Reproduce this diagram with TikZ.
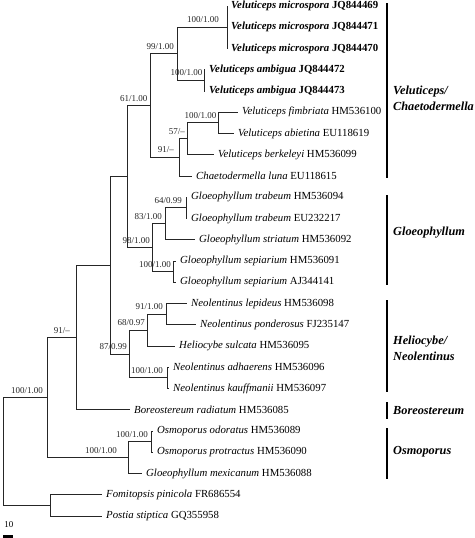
\documentclass[tikz,border=0pt]{standalone}
\usepackage{fontspec}
\setmainfont{Liberation Serif}

\begin{document}
\begin{tikzpicture}[x=1pt,y=-1pt,
    branch/.style={draw=black!85,line width=0.85pt},
    taxon/.style={anchor=west,inner sep=0pt,xshift=4pt,font=\fontsize{10.8}{12}\selectfont},
    support/.style={anchor=base east,inner sep=0pt,yshift=4.5pt,font=\fontsize{9}{10}\selectfont,black!85},
    clade/.style={anchor=west,inner sep=0pt,align=left,font=\fontsize{12.3}{16}\selectfont\bfseries\itshape},
    cladebar/.style={line width=1.5pt}]
\useasboundingbox (0,0) rectangle (474,538);

% === Leaves (id/tip x/row/species/accession) ===
\foreach \id/\tx/\r/\sp/\acc in {
    mic1/227/1/Veluticeps microspora/JQ844469,
    mic2/227/2/Veluticeps microspora/JQ844471,
    mic3/227/3/Veluticeps microspora/JQ844470,
    amb1/205/4/Veluticeps ambigua/JQ844472,
    amb2/205/5/Veluticeps ambigua/JQ844473} {
    \coordinate (\id) at (\tx,{6+21.25*(\r-1)});
    \node[taxon,font=\fontsize{10.8}{12}\selectfont\bfseries] (\id-lbl) at (\id) {\textit{\sp} \acc};
}
\foreach \id/\tx/\r/\sp/\acc in {
    fim/238/6/Veluticeps fimbriata/HM536100,
    abi/234/7/Veluticeps abietina/EU118619,
    ber/214/8/Veluticeps berkeleyi/HM536099,
    cha/192/9/Chaetodermella luna/EU118615,
    gtr1/187/10/Gloeophyllum trabeum/HM536094,
    gtr2/187/11/Gloeophyllum trabeum/EU232217,
    gst/195/12/Gloeophyllum striatum/HM536092,
    gse1/176/13/Gloeophyllum sepiarium/HM536091,
    gse2/176/14/Gloeophyllum sepiarium/AJ344141,
    nle/187/15/Neolentinus lepideus/HM536098,
    npo/196/16/Neolentinus ponderosus/FJ235147,
    hsu/175/17/Heliocybe sulcata/HM536095,
    nad/169/18/Neolentinus adhaerens/HM536096,
    nka/169/19/Neolentinus kauffmanii/HM536097,
    bra/130/20/Boreostereum radiatum/HM536085,
    ood/153/21/Osmoporus odoratus/HM536089,
    opr/153/22/Osmoporus protractus/HM536090,
    gme/142/23/Gloeophyllum mexicanum/HM536088,
    fpi/102/24/Fomitopsis pinicola/FR686554,
    pst/102/25/Postia stiptica/GQ355958} {
    \coordinate (\id) at (\tx,{6+21.25*(\r-1)});
    \node[taxon] (\id-lbl) at (\id) {\textit{\sp} \acc};
}

% === Internal nodes ===
\coordinate (nMic) at (227,27.25);
\coordinate (nAmb) at (204,80.38);
\coordinate (n99)  at (177,53.81);
\coordinate (nFim) at (218,122.88);
\coordinate (n57)  at (187,138.81);
\coordinate (n91a) at (179,157.41);
\coordinate (n61)  at (150,105.61);
\coordinate (nGtr) at (186,207.88);
\coordinate (n83)  at (165,223.81);
\coordinate (nSep) at (173,271.63);
\coordinate (n98)  at (152,247.72);
\coordinate (nVG)  at (127,176.66);
\coordinate (nLep) at (166,314.13);
\coordinate (n68)  at (147,330.06);
\coordinate (nAdh) at (167,377.88);
\coordinate (n87)  at (129,353.97);
\coordinate (nVGN) at (110,265.3);
\coordinate (n91b) at (76,337.53);
\coordinate (nOdo) at (151,441.63);
\coordinate (nOsm) at (128,457.56);
\coordinate (n100) at (47,397.55);
\coordinate (nOut) at (50,505.38);
\coordinate (root) at (3,451.46);

% === Branches ===
\foreach \p/\c in {nMic/mic1, nMic/mic2, nMic/mic3, nAmb/amb1, nAmb/amb2,
    n99/nMic, n99/nAmb, nFim/fim, nFim/abi, n57/nFim, n57/ber, n91a/n57, n91a/cha,
    n61/n99, n61/n91a, nGtr/gtr1, nGtr/gtr2, n83/nGtr, n83/gst, nSep/gse1, nSep/gse2,
    n98/n83, n98/nSep, nVG/n61, nVG/n98, nLep/nle, nLep/npo, n68/nLep, n68/hsu,
    nAdh/nad, nAdh/nka, n87/n68, n87/nAdh, nVGN/nVG, nVGN/n87, n91b/nVGN, n91b/bra,
    nOdo/ood, nOdo/opr, nOsm/nOdo, nOsm/gme, n100/n91b, n100/nOsm,
    nOut/fpi, nOut/pst, root/n100, root/nOut}
    \draw[branch] (\p) |- (\c);

% === Support values (node/shift/bootstrap/posterior) ===
\foreach \n/\dx/\bs/\pp in {nMic/-8/100/1.00, nAmb/-1.5/100/1.00, n99/-3/99/1.00,
    n61/-2.5/61/1.00, nFim/-1.5/100/1.00, n57/-2/57/–, n91a/-5/91/–,
    nGtr/-4/64/0.99, n83/-3/83/1.00, n98/-2/98/1.00, nSep/-2/100/1.00,
    nLep/-3/91/1.00, n68/-2/68/0.97, n87/-2/87/0.99, nAdh/-4/100/1.00,
    n91b/-6/91/–, n100/-4/100/1.00, nOsm/-11/100/1.00, nOdo/-3/100/1.00}
    \node[support,xshift=\dx pt] (\n-s) at (\n) {\bs/\pp};

% === Clades ===
\foreach \a/\b in {3/178, 195/285, 300/392, 402/419, 428/479}
    \draw[cladebar] (387,\a) -- (387,\b);
\node[clade] (cVel) at (393,98.5) {Veluticeps/\\Chaetodermella};
\node[clade] (cGlo) at (393,233) {Gloeophyllum};
\node[clade] (cHel) at (393,348.5) {Heliocybe/\\Neolentinus};
\node[clade] (cBor) at (393,410.5) {Boreostereum};
\node[clade] (cOsm) at (393,452) {Osmoporus};

% === Scale ===
\node[font=\fontsize{9}{10}\selectfont] (sclbl) at (9,525) {10};
\draw[line width=3pt] (3,536.5) -- (13,536.5);
\end{tikzpicture}
\end{document}
